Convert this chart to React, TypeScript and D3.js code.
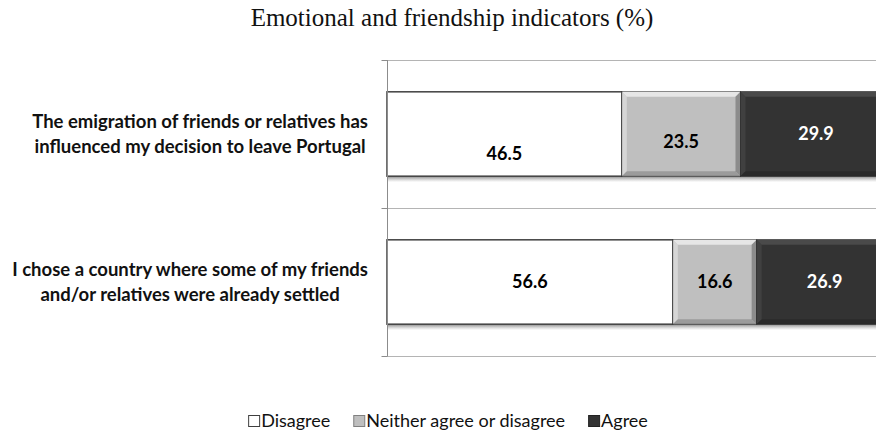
import * as d3 from 'd3';
import * as React from 'react';

// chart values
const categories: string[][] = [
    ['The emigration of friends or relatives has', 'influenced my decision to leave Portugal'],
    ['I chose a country where some of my friends', 'and/or relatives were already settled'],
];
const seriesNames: string[] = ['Disagree', 'Neither agree or disagree', 'Agree'];
const disagree: number[] = [46.5, 56.6];
const neither: number[] = [23.5, 16.6];
const agree: number[] = [29.9, 26.9];
const titleText = 'Emotional and friendship indicators (%)';

const W = 876;
const H = 432;
const margin = { left: 387, top: 60, right: -16, bottom: 76 };
const fills = ['#ffffff', '#bfbfbf', '#333333'];
const textFills = ['#000000', '#000000', '#ffffff'];
// Excel placed a couple of the labels off-centre
const labelShift = [[20, 8, 0], [0, 0, 0]];
const labelFont = 'Lato, "Open Sans", sans-serif';

export default function App() {
    const svgRef = React.useRef<SVGSVGElement | null>(null);

    React.useEffect(() => {
        if (!svgRef.current) return;
        const svg = d3.select(svgRef.current);
        svg.selectAll('*').remove();

        const x = d3.scaleLinear()
            .domain([0, 100])
            .range([margin.left, W - margin.right]);
        const y = d3.scaleBand<number>()
            .domain(d3.range(categories.length))
            .range([margin.top, H - margin.bottom])
            .paddingInner(0.43)
            .paddingOuter(0.215);

        const defs = svg.append('defs');
        const shadow = defs.append('linearGradient')
            .attr('id', 'shadow').attr('x1', 0).attr('y1', 0).attr('x2', 0).attr('y2', 1);
        shadow.append('stop').attr('offset', '0%').attr('stop-color', '#555').attr('stop-opacity', 0.7);
        shadow.append('stop').attr('offset', '100%').attr('stop-color', '#999').attr('stop-opacity', 0);

        svg.append('text')
            .attr('x', 452).attr('y', 26)
            .attr('font-family', '"Liberation Serif", serif')
            .attr('font-size', 25)
            .attr('fill', '#111')
            .attr('text-anchor', 'middle')
            .text(titleText);

        // gridlines at the category boundaries
        const bounds = [margin.top, (margin.top + H - margin.bottom) / 2, H - margin.bottom];
        svg.append('g')
            .selectAll('line')
            .data(bounds)
            .join('line')
            .attr('x1', margin.left).attr('x2', W)
            .attr('y1', d => d + 0.5).attr('y2', d => d + 0.5)
            .attr('stroke', '#b4b4b4');

        const stacks = d3.stack<number>()
            .keys(['0', '1', '2'])
            .value((i, key) => [disagree, neither, agree][+key][i])(d3.range(categories.length));

        const bars = svg.append('g');
        // soft shadow under each bar
        bars.selectAll('rect.shadow')
            .data(d3.range(categories.length))
            .join('rect')
            .attr('class', 'shadow')
            .attr('x', x(0))
            .attr('y', i => (y(i) as number) + y.bandwidth())
            .attr('width', i => x(disagree[i] + neither[i] + agree[i]) - x(0))
            .attr('height', 6)
            .attr('fill', 'url(#shadow)');

        stacks.forEach((layer, s) => {
            layer.forEach((seg, i) => {
                const x0 = x(seg[0]);
                const x1 = x(seg[1]);
                const y0 = y(i) as number;
                const h = y.bandwidth();
                const g = bars.append('g');
                g.append('rect')
                    .attr('x', x0).attr('y', y0)
                    .attr('width', x1 - x0).attr('height', h)
                    .attr('fill', fills[s])
                    .attr('stroke', s === 0 ? '#404040' : '#2a2a2a')
                    .attr('stroke-width', s === 0 ? 1.5 : 1);
                if (s > 0) {
                    const b = 5;
                    const hi = s === 1 ? '#e6e6e6' : '#4a4a4a';
                    const lo = s === 1 ? '#8c8c8c' : '#262626';
                    // bevel: light top/left, dark bottom/right
                    g.append('path')
                        .attr('d', `M${x0},${y0}L${x1},${y0}L${x1 - b},${y0 + b}L${x0 + b},${y0 + b}Z`)
                        .attr('fill', hi);
                    g.append('path')
                        .attr('d', `M${x0},${y0}L${x0 + b},${y0 + b}L${x0 + b},${y0 + h - b}L${x0},${y0 + h}Z`)
                        .attr('fill', hi).attr('opacity', 0.6);
                    g.append('path')
                        .attr('d', `M${x1},${y0}L${x1},${y0 + h}L${x1 - b},${y0 + h - b}L${x1 - b},${y0 + b}Z`)
                        .attr('fill', lo);
                    g.append('path')
                        .attr('d', `M${x0},${y0 + h}L${x1},${y0 + h}L${x1 - b},${y0 + h - b}L${x0 + b},${y0 + h - b}Z`)
                        .attr('fill', lo).attr('opacity', 0.7);
                }
                g.append('text')
                    .attr('x', (x0 + x1) / 2)
                    .attr('y', y0 + h / 2 + labelShift[i][s])
                    .attr('dy', '0.36em')
                    .attr('text-anchor', 'middle')
                    .attr('font-family', labelFont)
                    .attr('font-weight', 700)
                    .attr('font-size', 18)
                    .attr('fill', textFills[s])
                    .text(d3.format('.1f')(seg[1] - seg[0]));
            });
        });

        // vertical category axis
        const axis = svg.append('g').attr('transform', `translate(${margin.left + 0.5},0)`);
        axis.append('line')
            .attr('y1', margin.top).attr('y2', H - margin.bottom)
            .attr('stroke', '#8c8c8c');
        axis.selectAll('line.tick')
            .data(bounds)
            .join('line')
            .attr('class', 'tick')
            .attr('x1', -6).attr('x2', 0)
            .attr('y1', d => d + 0.5).attr('y2', d => d + 0.5)
            .attr('stroke', '#8c8c8c');

        // category labels: centred lines, block right-aligned against the axis
        categories.forEach((lines, i) => {
            const cy = (y(i) as number) + y.bandwidth() / 2;
            const t = svg.append('text')
                .attr('font-family', labelFont)
                .attr('font-weight', 700)
                .attr('font-size', 18.5)
                .attr('fill', '#111')
                .attr('text-anchor', 'middle');
            const spans = t.selectAll('tspan')
                .data(lines)
                .join('tspan')
                .attr('y', (_, k) => cy + (k - (lines.length - 1) / 2) * 24.5)
                .attr('dy', '0.36em')
                .text(d => d);
            let maxW = 0;
            spans.each(function () {
                maxW = Math.max(maxW, (this as SVGTSpanElement).getComputedTextLength());
            });
            spans.attr('x', 368 - maxW / 2);
        });

        // legend, laid out left to right and centred under the chart
        const legend = svg.append('g');
        const box = 11;
        let cursor = 0;
        seriesNames.forEach((name, s) => {
            legend.append('rect')
                .attr('x', cursor + 0.5).attr('y', -5.5)
                .attr('width', box).attr('height', box)
                .attr('fill', fills[s])
                .attr('stroke', s === 0 ? '#404040' : s === 1 ? '#808080' : '#222');
            const t = legend.append('text')
                .attr('x', cursor + box + 2).attr('y', 0)
                .attr('dy', '0.36em')
                .attr('font-family', labelFont)
                .attr('font-size', 18)
                .attr('fill', '#111')
                .text(name);
            cursor += box + 2 + (t.node() as SVGTextElement).getComputedTextLength() + 23;
        });
        const legendW = cursor - 23;
        legend.attr('transform', `translate(${448 - legendW / 2},421)`);
    }, []);

    return (
        <svg
            ref={svgRef}
            width={W}
            height={H}
            style={{ position: 'absolute', left: 0, top: 0, background: '#fff', overflow: 'hidden' }}
        />
    );
}
